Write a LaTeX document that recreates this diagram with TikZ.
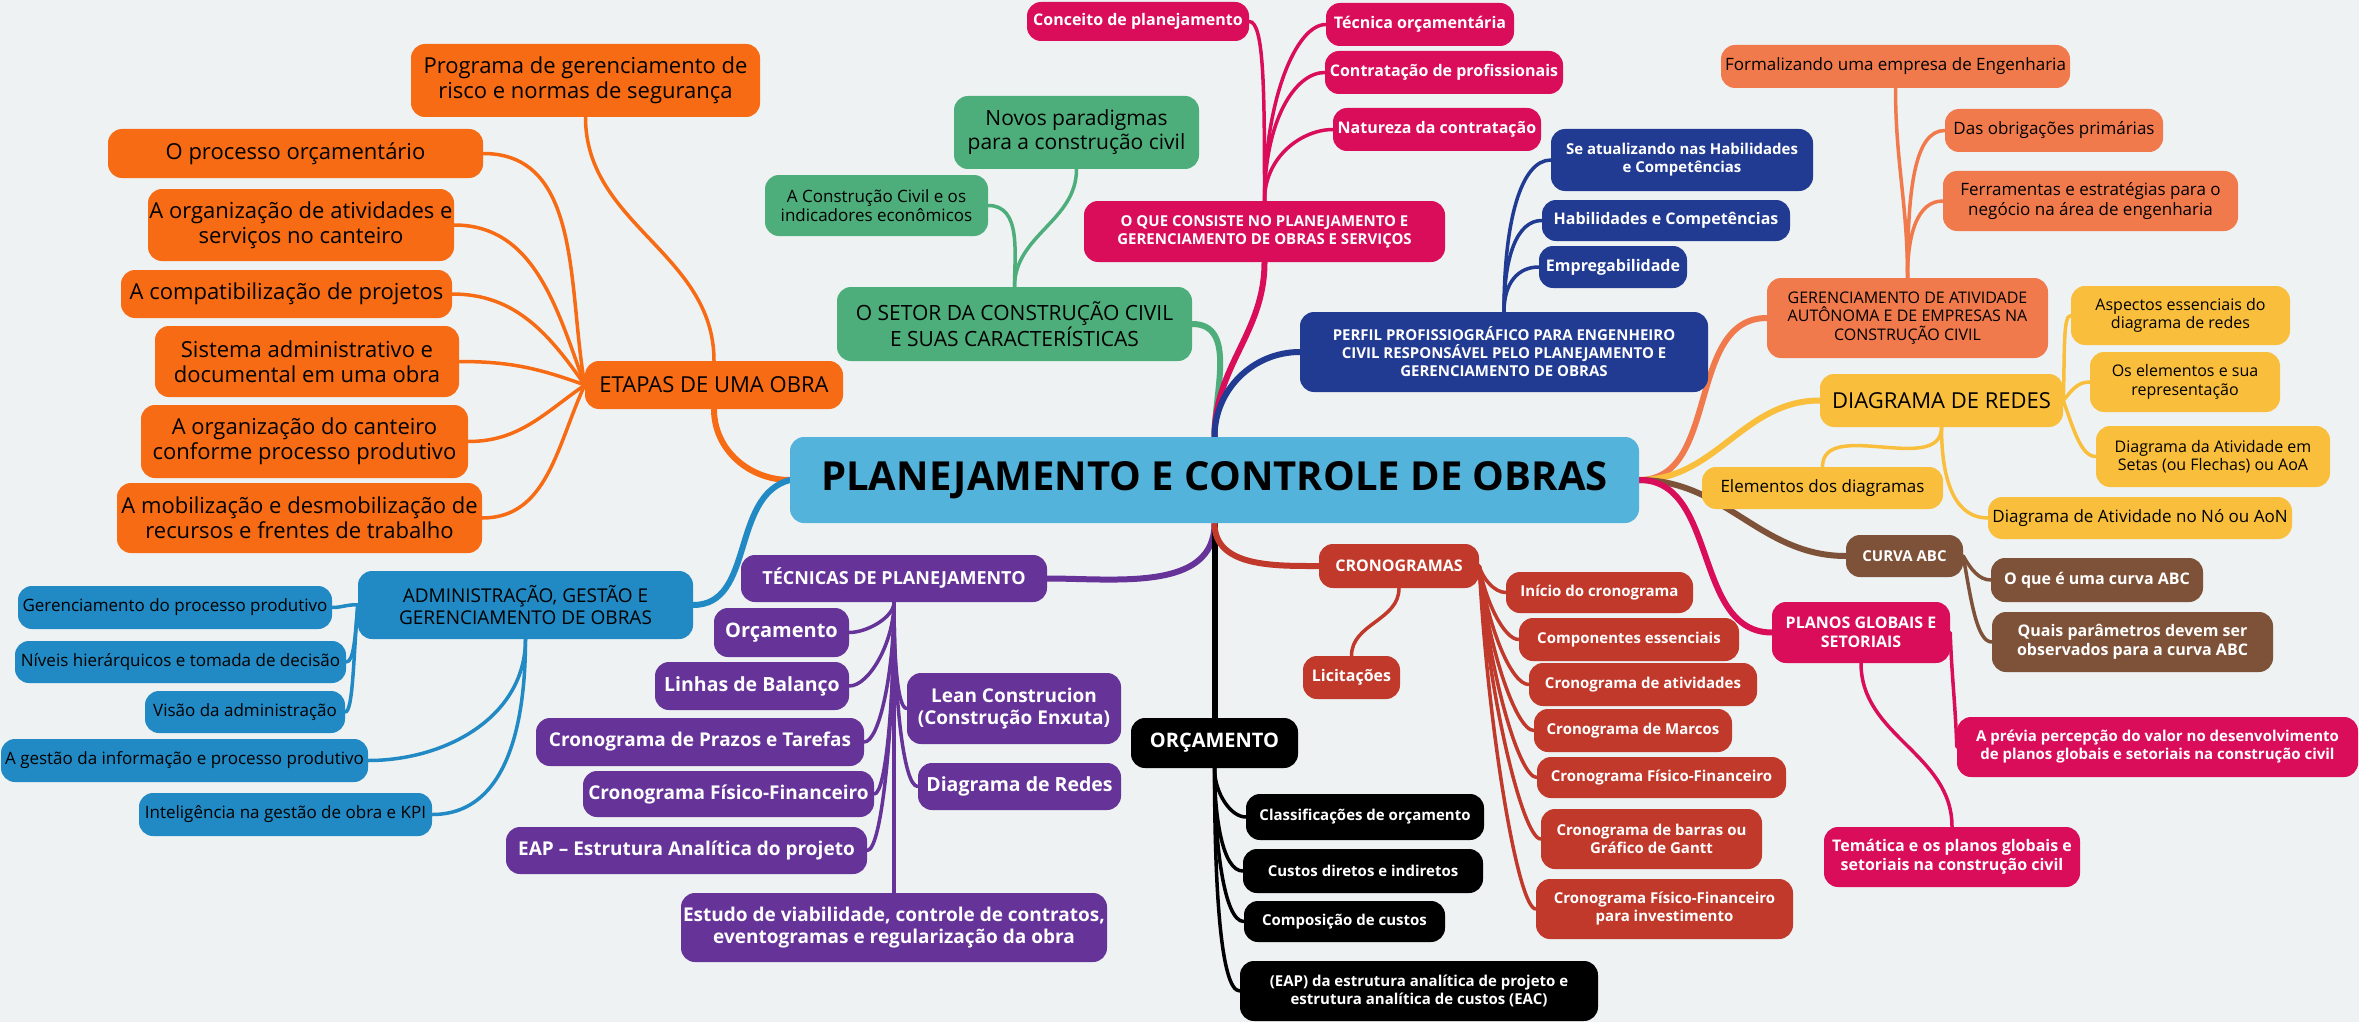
\documentclass[tikz,border=0pt]{standalone}
\usepackage{fontspec}
\setmainfont{Open Sans}
\definecolor{BG}{HTML}{EEF2F3}
\definecolor{COr}{HTML}{F76B14}
\definecolor{CGr}{HTML}{4DAE7B}
\definecolor{CMg}{HTML}{D90D5A}
\definecolor{CNv}{HTML}{213A92}
\definecolor{CSa}{HTML}{F17A4C}
\definecolor{CYe}{HTML}{F9BF3C}
\definecolor{CBr}{HTML}{7E5238}
\definecolor{CRe}{HTML}{C0392B}
\definecolor{CPu}{HTML}{663399}
\definecolor{CBl}{HTML}{2189C3}
\definecolor{CCe}{HTML}{54B3DA}
\pgfdeclarelayer{bg}
\pgfsetlayers{bg,main}
\tikzset{
  nb/.style={rounded corners=14pt, inner sep=0pt, align=center},
  bOr/.style={nb, fill=COr, text=black},
  bGr/.style={nb, fill=CGr, text=black},
  bMg/.style={nb, fill=CMg, text=white},
  bNv/.style={nb, fill=CNv, text=white},
  bSa/.style={nb, fill=CSa, text=black},
  bYe/.style={nb, fill=CYe, text=black},
  bBr/.style={nb, fill=CBr, text=white},
  bRe/.style={nb, fill=CRe, text=white},
  bBk/.style={nb, fill=black, text=white},
  bPu/.style={nb, fill=CPu, text=white},
  bBl/.style={nb, fill=CBl, text=black},
  bCe/.style={nb, fill=CCe, text=black},
  f16/.style={font=\fontsize{16}{18.5}\selectfont},
  f17/.style={font=\fontsize{17}{19.5}\selectfont},
  f19/.style={font=\fontsize{19}{22}\selectfont},
  f21/.style={font=\fontsize{21}{24}\selectfont},
  f22/.style={font=\fontsize{22}{25}\selectfont},
  fb15/.style={font=\fontsize{15}{18}\selectfont\bfseries},
  fb16/.style={font=\fontsize{16}{18.5}\selectfont\bfseries},
  fb18/.style={font=\fontsize{18}{21}\selectfont\bfseries},
  fb19/.style={font=\fontsize{19}{22}\selectfont\bfseries},
  fb195/.style={font=\fontsize{19.5}{22.5}\selectfont\bfseries},
  fb20/.style={font=\fontsize{20}{23}\selectfont\bfseries},
  fcen/.style={font=\fontsize{40}{46}\selectfont\bfseries},
  subln/.style={line width=3.5pt, line cap=round},
  mainln/.style={line width=6pt, line cap=round},
}
\newcommand{\nbox}[7]{\node[#6, minimum width={#4-#2}, minimum height={#5-#3}] (#1) at ({(#2+#4)/2},{-(#3+#5)/2}) {#7};}
\begin{document}
\begin{tikzpicture}[x=1pt,y=1pt]
\useasboundingbox (0,0) rectangle (2359,-1022);
% central
\nbox{central}{790}{437}{1639}{523}{bCe,fcen}{PLANEJAMENTO E CONTROLE DE OBRAS}
% orange
\nbox{prog}{411}{44}{760}{117}{bOr,f22}{Programa de gerenciamento de\\risco e normas de segurança}
\nbox{proc}{108}{129}{483}{178}{bOr,f22}{O processo orçamentário}
\nbox{ativ}{148}{189}{454}{261}{bOr,f22}{A organização de atividades e\\serviços no canteiro}
\nbox{compat}{121}{270}{452}{318}{bOr,f22}{A compatibilização de projetos}
\nbox{sist}{155}{326}{459}{397}{bOr,f22}{Sistema administrativo e\\documental em uma obra}
\nbox{orgc}{141}{405}{468}{478}{bOr,f22}{A organização do canteiro\\conforme processo produtivo}
\nbox{mob}{117}{483}{482}{553}{bOr,f22}{A mobilização e desmobilização de\\recursos e frentes de trabalho}
\nbox{etapas}{585}{361}{843}{409}{bOr,f22}{ETAPAS DE UMA OBRA}
% green
\nbox{novos}{954}{96}{1199}{169}{bGr,f21}{Novos paradigmas\\para a construção civil}
\nbox{acc}{765}{175}{988}{236}{bGr,f17}{A Construção Civil e os\\indicadores econômicos}
\nbox{setor}{837}{287}{1192}{361}{bGr,f21}{O SETOR DA CONSTRUÇÃO CIVIL\\E SUAS CARACTERÍSTICAS}
% magenta top
\nbox{conc}{1027}{2}{1249}{41}{bMg,fb16}{Conceito de planejamento}
\nbox{tecn}{1326}{3}{1514}{46}{bMg,fb16}{Técnica orçamentária}
\nbox{contr}{1325}{51}{1563}{94}{bMg,fb16}{Contratação de profissionais}
\nbox{natur}{1333}{108}{1541}{151}{bMg,fb16}{Natureza da contratação}
\nbox{oque}{1084}{201}{1445}{262}{bMg,fb15}{O QUE CONSISTE NO PLANEJAMENTO E\\GERENCIAMENTO DE OBRAS E SERVIÇOS}
% navy
\nbox{seat}{1551}{129}{1813}{191}{bNv,fb15}{Se atualizando nas Habilidades\\e Competências}
\nbox{habil}{1542}{200}{1790}{241}{bNv,fb16}{Habilidades e Competências}
\nbox{empreg}{1539}{246}{1687}{288}{bNv,fb16}{Empregabilidade}
\nbox{perfil}{1300}{312}{1708}{392}{bNv,fb15}{PERFIL PROFISSIOGRÁFICO PARA ENGENHEIRO\\CIVIL RESPONSÁVEL PELO PLANEJAMENTO E\\GERENCIAMENTO DE OBRAS}
% salmon
\nbox{formal}{1721}{45}{2070}{88}{bSa,f17}{Formalizando uma empresa de Engenharia}
\nbox{obrig}{1945}{109}{2163}{152}{bSa,f17}{Das obrigações primárias}
\nbox{ferr}{1943}{171}{2238}{231}{bSa,f17}{Ferramentas e estratégias para o\\negócio na área de engenharia}
\nbox{gerenc}{1767}{278}{2048}{358}{bSa,f16}{GERENCIAMENTO DE ATIVIDADE\\AUTÔNOMA E DE EMPRESAS NA\\CONSTRUÇÃO CIVIL}
% yellow
\nbox{diag}{1820}{374}{2063}{427}{bYe,f22}{DIAGRAMA DE REDES}
\nbox{asp}{2071}{286}{2290}{345}{bYe,f16}{Aspectos essenciais do\\diagrama de redes}
\nbox{oselem}{2090}{352}{2280}{412}{bYe,f16}{Os elementos e sua\\representação}
\nbox{setas}{2096}{426}{2330}{487}{bYe,f16}{Diagrama da Atividade em\\Setas (ou Flechas) ou AoA}
\nbox{elem}{1702}{467}{1943}{509}{bYe,f17}{Elementos dos diagramas}
\nbox{aon}{1988}{497}{2292}{539}{bYe,f17}{Diagrama de Atividade no Nó ou AoN}
% brown
\nbox{curva}{1846}{535}{1963}{577}{bBr,fb15}{CURVA ABC}
\nbox{oqe}{1991}{558}{2203}{602}{bBr,fb16}{O que é uma curva ABC}
\nbox{quais}{1992}{612}{2273}{672}{bBr,fb16}{Quais parâmetros devem ser\\observados para a curva ABC}
% magenta right
\nbox{planos}{1772}{602}{1950}{663}{bMg,fb16}{PLANOS GLOBAIS E\\SETORIAIS}
\nbox{previa}{1957}{717}{2358}{777}{bMg,fb15}{A prévia percepção do valor no desenvolvimento\\de planos globais e setoriais na construção civil}
\nbox{temat}{1824}{827}{2080}{887}{bMg,fb16}{Temática e os planos globais e\\setoriais na construção civil}
% red
\nbox{crono}{1319}{544}{1479}{588}{bRe,fb16}{CRONOGRAMAS}
\nbox{licit}{1303}{656}{1400}{699}{bRe,fb16}{Licitações}
\nbox{inic}{1506}{572}{1693}{613}{bRe,fb15}{Início do cronograma}
\nbox{comp}{1519}{618}{1739}{661}{bRe,fb15}{Componentes essenciais}
\nbox{cativ}{1529}{663}{1757}{706}{bRe,fb15}{Cronograma de atividades}
\nbox{marcos}{1534}{709}{1732}{752}{bRe,fb15}{Cronograma de Marcos}
\nbox{cff}{1537}{757}{1786}{798}{bRe,fb15}{Cronograma Físico-Financeiro}
\nbox{barras}{1541}{809}{1762}{869}{bRe,fb15}{Cronograma de barras ou\\Gráfico de Gantt}
\nbox{invest}{1536}{879}{1793}{939}{bRe,fb15}{Cronograma Físico-Financeiro\\para investimento}
% black
\nbox{orcm}{1131}{718}{1298}{768}{bBk,fb20}{ORÇAMENTO}
\nbox{class}{1246}{794}{1484}{840}{bBk,fb15}{Classificações de orçamento}
\nbox{custos}{1243}{849}{1483}{893}{bBk,fb15}{Custos diretos e indiretos}
\nbox{compos}{1244}{901}{1445}{942}{bBk,fb15}{Composição de custos}
\nbox{eapb}{1240}{961}{1598}{1021}{bBk,fb15}{(EAP) da estrutura analítica de projeto e\\estrutura analítica de custos (EAC)}
% purple
\nbox{tecnicas}{741}{555}{1047}{602}{bPu,fb18}{TÉCNICAS DE PLANEJAMENTO}
\nbox{porc}{714}{608}{849}{657}{bPu,fb20}{Orçamento}
\nbox{linhas}{655}{662}{849}{710}{bPu,fb195}{Linhas de Balanço}
\nbox{prazos}{536}{718}{864}{766}{bPu,fb19}{Cronograma de Prazos e Tarefas}
\nbox{pff}{583}{771}{874}{817}{bPu,fb19}{Cronograma Físico-Financeiro}
\nbox{eapp}{506}{827}{867}{874}{bPu,fb19}{EAP – Estrutura Analítica do projeto}
\nbox{lean}{907}{673}{1121}{744}{bPu,fb19}{Lean Construcion\\(Construção Enxuta)}
\nbox{pdr}{918}{763}{1121}{810}{bPu,fb195}{Diagrama de Redes}
\nbox{estudo}{681}{893}{1107}{962}{bPu,fb19}{Estudo de viabilidade, controle de contratos,\\eventogramas e regularização da obra}
% blue
\nbox{admin}{358}{571}{693}{639}{bBl,f19}{ADMINISTRAÇÃO, GESTÃO E\\GERENCIAMENTO DE OBRAS}
\nbox{gpp}{18}{586}{332}{629}{bBl,f17}{Gerenciamento do processo produtivo}
\nbox{niveis}{15}{641}{346}{683}{bBl,f17}{Níveis hierárquicos e tomada de decisão}
\nbox{visao}{145}{691}{345}{733}{bBl,f17}{Visão da administração}
\nbox{gestinf}{1}{739}{368}{782}{bBl,f17}{A gestão da informação e processo produtivo}
\nbox{intel}{139}{793}{432}{836}{bBl,f17}{Inteligência na gestão de obra e KPI}

\begin{pgfonlayer}{bg}
\fill[BG] (0,0) rectangle (2359,-1022);
% main branches
\draw[mainln, COr] (central.west) to[out=180, in=-90] (etapas.south);
\draw[mainln, CBl] (central.west) to[out=195, in=0] (admin.east);
\draw[mainln, CGr] (central.north) to[out=90, in=0] (setor.east);
\draw[mainln, CMg] (central.north) to[out=90, in=-90] (oque.south);
\draw[mainln, CNv] (central.north) to[out=90, in=180] (perfil.west);
\draw[mainln, CPu] (central.south) to[out=-90, in=0] (tecnicas.east);
\draw[mainln, black] (central.south) -- (orcm.north);
\draw[mainln, CRe] (central.south) to[out=-90, in=180] (crono.west);
\draw[mainln, CSa] (central.east) to[out=0, in=180] (gerenc.west);
\draw[mainln, CYe] (central.east) to[out=0, in=180] (diag.west);
\draw[mainln, CBr] (central.east) to[out=0, in=180] (curva.west);
\draw[mainln, CMg] (central.east) to[out=0, in=180] (planos.west);
% orange
\draw[subln, COr] (prog.south) to[out=-90, in=90] (etapas.north);
\draw[subln, COr] (proc.east) to[out=0, in=100] (etapas.west);
\draw[subln, COr] (ativ.east) to[out=0, in=110] (etapas.west);
\draw[subln, COr] (compat.east) to[out=0, in=125] (etapas.west);
\draw[subln, COr] (sist.east) to[out=0, in=160] (etapas.west);
\draw[subln, COr] (orgc.east) to[out=0, in=215] (etapas.west);
\draw[subln, COr] (mob.east) to[out=0, in=245] (etapas.west);
% blue
\draw[subln, CBl] (gpp.east) to[out=0, in=175] (admin.west);
\draw[subln, CBl] (niveis.east) to[out=0, in=-95, out distance=8, in distance=30] (admin.west);
\draw[subln, CBl] (visao.east) to[out=0, in=-95, out distance=8, in distance=50] (admin.west);
\draw[subln, CBl] (gestinf.east) to[out=0, in=-90] (admin.south);
\draw[subln, CBl] (intel.east) to[out=0, in=-90] (admin.south);
% purple
\draw[subln, CPu] (tecnicas.south) -- (estudo.north);
\draw[subln, CPu] (porc.east) to[out=0, in=-90, out distance=18, in distance=15] (tecnicas.south);
\draw[subln, CPu] (linhas.east) to[out=0, in=-90, out distance=20, in distance=40] (tecnicas.south);
\draw[subln, CPu] (prazos.east) to[out=0, in=-90, out distance=15, in distance=70] (tecnicas.south);
\draw[subln, CPu] (pff.east) to[out=0, in=-90, out distance=12, in distance=95] (tecnicas.south);
\draw[subln, CPu] (eapp.east) to[out=0, in=-90, out distance=15, in distance=120] (tecnicas.south);
\draw[subln, CPu] (lean.west) to[out=180, in=-90, out distance=10, in distance=50] (tecnicas.south);
\draw[subln, CPu] (pdr.west) to[out=180, in=-90, out distance=15, in distance=90] (tecnicas.south);
% black
\draw[subln, black] (orcm.south) to[out=-90, in=180, out distance=25, in distance=15] (class.west);
\draw[subln, black] (orcm.south) to[out=-90, in=180, out distance=50, in distance=20] (custos.west);
\draw[subln, black] (orcm.south) to[out=-90, in=180, out distance=75, in distance=20] (compos.west);
\draw[subln, black] (orcm.south) to[out=-90, in=180, out distance=110, in distance=20] (eapb.west);
% red
\draw[subln, CRe] (crono.south) to[out=-90, in=90] (licit.north);
\draw[subln, CRe] (crono.east) to[out=-75, in=180, out distance=12, in distance=12] (inic.west);
\draw[subln, CRe] (crono.east) to[out=-80, in=180, out distance=35, in distance=15] (comp.west);
\draw[subln, CRe] (crono.east) to[out=-82, in=180, out distance=60, in distance=18] (cativ.west);
\draw[subln, CRe] (crono.east) to[out=-84, in=180, out distance=80, in distance=18] (marcos.west);
\draw[subln, CRe] (crono.east) to[out=-85, in=180, out distance=105, in distance=18] (cff.west);
\draw[subln, CRe] (crono.east) to[out=-86, in=180, out distance=130, in distance=18] (barras.west);
\draw[subln, CRe] (crono.east) to[out=-87, in=180, out distance=160, in distance=18] (invest.west);
% green
\draw[subln, CGr] (setor.north) to[out=90, in=-90] (novos.south);
\draw[subln, CGr] (setor.north) to[out=90, in=0] (acc.east);
% magenta top
\draw[subln, CMg] (oque.north) to[out=90, in=0, out distance=110, in distance=15] (conc.east);
\draw[subln, CMg] (oque.north) to[out=90, in=180, out distance=100, in distance=30] (tecn.west);
\draw[subln, CMg] (oque.north) to[out=90, in=180, out distance=80, in distance=30] (contr.west);
\draw[subln, CMg] (oque.north) to[out=90, in=180, out distance=45, in distance=30] (natur.west);
% navy
\draw[subln, CNv] (perfil.north) to[out=90, in=180, out distance=90, in distance=30] (seat.west);
\draw[subln, CNv] (perfil.north) to[out=90, in=180, out distance=55, in distance=25] (habil.west);
\draw[subln, CNv] (perfil.north) to[out=90, in=180, out distance=30, in distance=20] (empreg.west);
% salmon
\draw[subln, CSa] (gerenc.north) to[out=90, in=-90] (formal.south);
\draw[subln, CSa] (gerenc.north) to[out=90, in=180, out distance=90, in distance=30] (obrig.west);
\draw[subln, CSa] (gerenc.north) to[out=90, in=180, out distance=45, in distance=25] (ferr.west);
% yellow
\draw[subln, CYe] (diag.east) to[out=88, in=180, out distance=50, in distance=8] (asp.west);
\draw[subln, CYe] (diag.east) to[out=50, in=180, out distance=15, in distance=12] (oselem.west);
\draw[subln, CYe] (diag.east) to[out=-70, in=180, out distance=30, in distance=15] (setas.west);
\draw[subln, CYe] (diag.south) to[out=-90, in=90] (elem.north);
\draw[subln, CYe] (diag.south) to[out=-90, in=180, out distance=60, in distance=30] (aon.west);
% brown
\draw[subln, CBr] (curva.east) to[out=-60, in=180, out distance=15, in distance=12] (oqe.west);
\draw[subln, CBr] (curva.east) to[out=-80, in=180, out distance=45, in distance=15] (quais.west);
% magenta right
\draw[subln, CMg] (planos.east) to[out=-88, in=92] (previa.west);
\draw[subln, CMg] (planos.south) to[out=-90, in=90] (temat.north);
\end{pgfonlayer}
\end{tikzpicture}
\end{document}
